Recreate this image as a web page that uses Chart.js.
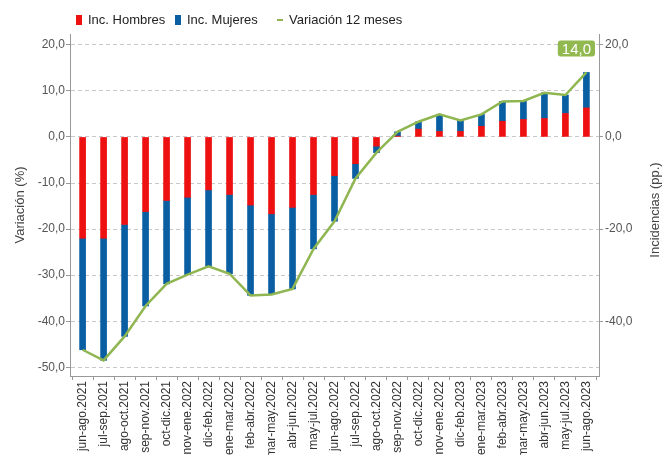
<!DOCTYPE html>
<html lang="es">
<head>
<meta charset="utf-8">
<title>Variación 12 meses</title>
<script src="https://cdn.jsdelivr.net/npm/chart.js@4.4.1/dist/chart.umd.min.js"></script>
<style>
  html, body { margin: 0; padding: 0; background: #fff; overflow: hidden; }
  #wrap { position: relative; width: 663px; height: 455px; }
  #chart { position: absolute; left: 0; top: 0; }
  .leg { position: absolute; top: 11px; font: 13px "Liberation Sans", Arial, sans-serif; color: #222; white-space: nowrap; line-height: 17px; }
  .leg i { position: absolute; display: block; }
</style>
</head>
<body>
<div id="wrap">
  <canvas id="chart" width="663" height="455"></canvas>
  <div class="leg" style="left:76px"><i style="left:0;top:4px;width:6px;height:10px;background:#ee1111"></i><span style="margin-left:12px">Inc. Hombres</span></div>
  <div class="leg" style="left:175px"><i style="left:0;top:4px;width:6px;height:10px;background:#0a5fa3"></i><span style="margin-left:12px">Inc. Mujeres</span></div>
  <div class="leg" style="left:277px"><i style="left:0;top:8px;width:6px;height:2px;background:#8fb651"></i><span style="margin-left:12px">Variación 12 meses</span></div>
</div>
<script>
// periodos móviles de 3 meses
const periodos = [
  'jun-ago.2021', 'jul-sep.2021', 'ago-oct.2021', 'sep-nov.2021', 'oct-dic.2021',
  'nov-ene.2022', 'dic-feb.2022', 'ene-mar.2022', 'feb-abr.2022', 'mar-may.2022',
  'abr-jun.2022', 'may-jul.2022', 'jun-ago.2022', 'jul-sep.2022', 'ago-oct.2022',
  'sep-nov.2022', 'oct-dic.2022', 'nov-ene.2022', 'dic-feb.2023', 'ene-mar.2023',
  'feb-abr.2023', 'mar-may.2023', 'abr-jun.2023', 'may-jul.2023', 'jun-ago.2023'
];

// incidencias (pp.)
const incHombres = [
  -22.0, -22.0, -19.0, -16.2, -13.8, -13.1, -11.5, -12.5, -14.8, -16.7,
  -15.3, -12.5, -8.4, -5.8, -2.0, 0.2, 1.7, 1.2, 1.2, 2.3,
  3.4, 3.8, 4.0, 5.1, 6.3
];
const incMujeres = [
  -24.2, -26.5, -24.3, -20.5, -18.1, -16.8, -16.6, -17.2, -19.6, -17.5,
  -17.7, -11.8, -9.9, -3.2, -1.4, 0.9, 1.6, 3.7, 2.4, 2.6,
  4.3, 4.0, 5.6, 4.0, 7.7
];

// variación 12 meses (%)
const variacion = [
  -46.2, -48.5, -43.3, -36.7, -31.9, -29.9, -28.1, -29.7, -34.4, -34.2,
  -33.0, -24.3, -18.3, -9.0, -3.4, 1.1, 3.3, 4.9, 3.6, 4.9,
  7.7, 7.8, 9.6, 9.1, 14.0
];

const ticksIzq = [-50, -40, -30, -20, -10, 0, 10, 20];
const ticksDer = [-40, -20, 0, 20];

const FONT = '"Liberation Sans", Arial, sans-serif';
const fmt = v => v.toFixed(1).replace('.', ',');
const pts = arr => arr.map((v, i) => ({ x: i, y: v }));

// titulo derecho (se lee de abajo hacia arriba) y etiqueta del ultimo valor
const extras = {
  id: 'extras',
  afterDraw(chart) {
    const ctx = chart.ctx;
    const area = chart.chartArea;
    ctx.save();
    ctx.fillStyle = '#444';
    ctx.font = '13px ' + FONT;
    ctx.textAlign = 'center';
    ctx.textBaseline = 'middle';
    ctx.translate(655, 210);
    ctx.rotate(-Math.PI / 2);
    ctx.fillText('Incidencias (pp.)', 0, 0);
    ctx.restore();

    const last = variacion[variacion.length - 1];
    const yPos = chart.scales.y.getPixelForValue(19.2);
    const txt = fmt(last);
    ctx.save();
    ctx.font = '15px ' + FONT;
    const w = ctx.measureText(txt).width + 8;
    const h = 16;
    const right = area.right - 4;
    ctx.fillStyle = '#92b94f';
    ctx.beginPath();
    ctx.roundRect(right - w, yPos - h / 2, w, h, 3);
    ctx.fill();
    ctx.fillStyle = '#fff';
    ctx.textAlign = 'center';
    ctx.textBaseline = 'middle';
    ctx.fillText(txt, right - w / 2, yPos + 1);
    ctx.restore();
  }
};

new Chart(document.getElementById('chart'), {
  type: 'bar',
  data: {
    datasets: [
      {
        type: 'line',
        label: 'Variación 12 meses',
        data: pts(variacion),
        yAxisID: 'y1',
        borderColor: '#8fb651',
        borderWidth: 2.5,
        pointRadius: 0,
        tension: 0,
        fill: false,
        order: 0
      },
      {
        label: 'Inc. Hombres',
        data: pts(incHombres),
        backgroundColor: '#ee1111',
        barThickness: 6,
        order: 1
      },
      {
        label: 'Inc. Mujeres',
        data: pts(incMujeres),
        backgroundColor: '#0a5fa3',
        barThickness: 6,
        order: 1
      }
    ]
  },
  options: {
    responsive: false,
    animation: false,
    devicePixelRatio: 1,
    layout: { padding: { top: 34, left: 0, right: 0, bottom: 0 } },
    plugins: {
      legend: { display: false },
      tooltip: { enabled: false }
    },
    scales: {
      x: {
        type: 'linear',
        stacked: true,
        offset: false,
        min: -0.6,
        max: 24.6,
        afterBuildTicks: s => { s.ticks = periodos.map((p, i) => ({ value: i })); },
        afterFit: s => { s.height = 79; },
        grid: { drawOnChartArea: false, tickLength: 4, tickColor: '#999' },
        border: { color: '#999', width: 1 },
        ticks: {
          autoSkip: false,
          minRotation: 90,
          maxRotation: 90,
          padding: 1,
          color: '#333',
          font: { family: FONT, size: 12 },
          callback: v => periodos[v]
        }
      },
      y: {
        position: 'left',
        stacked: true,
        min: -51.9,
        max: 22.35,
        afterBuildTicks: s => { s.ticks = ticksIzq.map(v => ({ value: v })); },
        afterFit: s => { s.width = 70; },
        grid: {
          color: '#c8c8c8',
          lineWidth: 1,
          tickLength: 4,
          tickColor: '#999',
          tickBorderDash: []
        },
        border: { color: '#999', width: 1, dash: [4, 3] },
        ticks: {
          padding: 1,
          color: '#555',
          font: { family: FONT, size: 12 },
          callback: v => fmt(v)
        },
        title: {
          display: true,
          text: 'Variación (%)',
          color: '#444',
          font: { family: FONT, size: 13 },
          padding: { top: 13, bottom: 0 }
        }
      },
      y1: {
        position: 'right',
        min: -51.9,
        max: 22.35,
        afterBuildTicks: s => { s.ticks = ticksDer.map(v => ({ value: v })); },
        afterFit: s => { s.width = 64; },
        grid: { drawOnChartArea: false, tickLength: 4, tickColor: '#999' },
        border: { color: '#999', width: 1 },
        ticks: {
          padding: 2,
          color: '#555',
          font: { family: FONT, size: 12 },
          callback: v => fmt(v)
        }
      }
    }
  },
  plugins: [extras]
});
</script>
</body>
</html>
